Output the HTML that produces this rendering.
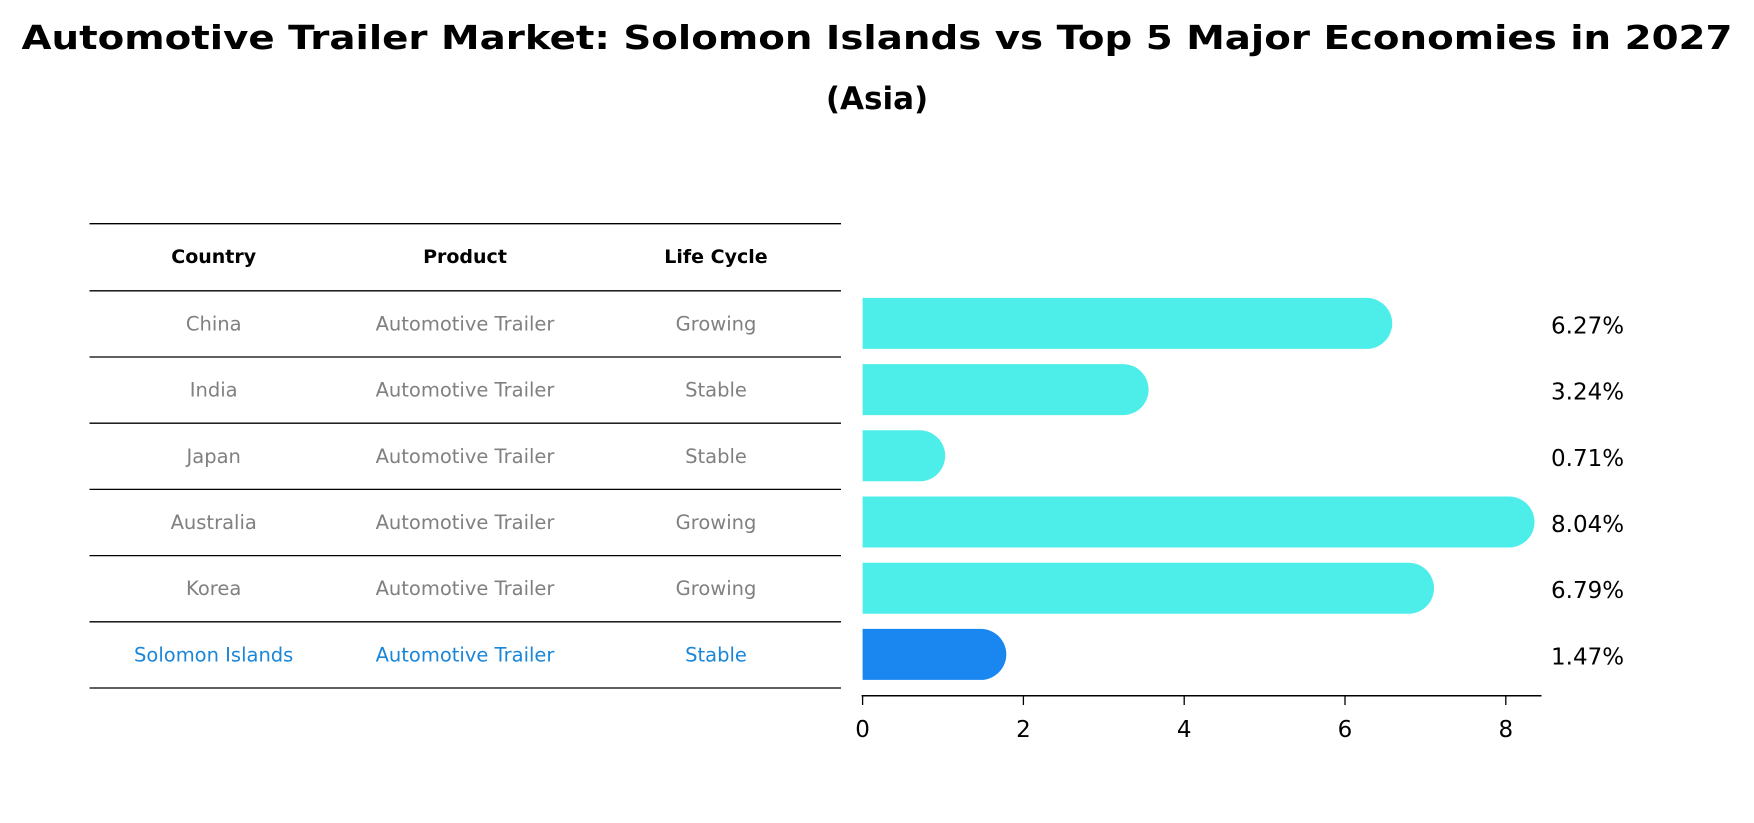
<!DOCTYPE html>
<html><head><meta charset="utf-8"><style>
html,body{margin:0;padding:0;background:#fff;}
svg{display:block;font-family:"DejaVu Sans","Liberation Sans",sans-serif;}
</style></head><body>
<svg id="chart" width="1754" height="823" viewBox="0 0 1754 823">
<text x="877" y="49" text-anchor="middle" font-size="33" font-weight="bold" textLength="1711" lengthAdjust="spacingAndGlyphs">Automotive Trailer Market: Solomon Islands vs Top 5 Major Economies in 2027</text>
<text x="877" y="109" text-anchor="middle" font-size="31" font-weight="bold">(Asia)</text>
<g id="table"></g>
<g id="bars"></g>
<g id="axis"></g>
</svg>
<script>
const countries = ["China","India","Japan","Australia","Korea","Solomon Islands"];
const products = ["Automotive Trailer","Automotive Trailer","Automotive Trailer","Automotive Trailer","Automotive Trailer","Automotive Trailer"];
const lifeCycles = ["Growing","Stable","Stable","Growing","Growing","Stable"];
const growthValues = [6.27,3.24,0.71,8.04,6.79,1.47];
const valueLabels = ["6.27%","3.24%","0.71%","8.04%","6.79%","1.47%"];
const xTicks = [0,2,4,6,8];

const NS="http://www.w3.org/2000/svg";
function mk(tag,attrs,parent){const e=document.createElementNS(NS,tag);for(const k in attrs)e.setAttribute(k,attrs[k]);parent.appendChild(e);return e;}
const x0=862.6, pxPerUnit=80.4;
const xScale=v=>x0+v*pxPerUnit;
const rowTop=290.8, rowH=66.2;
const yCenter=i=>rowTop+rowH*i+rowH/2-0.5;

// table
const tbl=document.getElementById('table');
const lineYs=[223.7,290.8];
for(let i=1;i<=countries.length;i++)lineYs.push(rowTop+rowH*i);
lineYs.forEach((y,i)=>{
  const l=mk('line',{x1:89.5,x2:841,y1:y,y2:y,stroke:'#000','stroke-width':1.3},tbl);
  
  
});
const colX=[213.7,465,716];
["Country","Product","Life Cycle"].forEach((h,j)=>{
  const t=mk('text',{x:colX[j],y:263,'text-anchor':'middle','font-size':19,'font-weight':'bold'},tbl);
  t.textContent=h;
  
  
});
countries.forEach((c,i)=>{
  const last=i===countries.length-1;
  const col=last?'#1a86d8':'#808080';
  [c,products[i],lifeCycles[i]].forEach((v,j)=>{
    const t=mk('text',{x:colX[j],y:yCenter(i)+7,'text-anchor':'middle','font-size':19.5,fill:col},tbl);
    t.textContent=v;
    
    
  });
});

// bars
const bg=document.getElementById('bars');
const bh=51, r=25.5;
growthValues.forEach((v,i)=>{
  const last=i===growthValues.length-1;
  const top=yCenter(i)-bh/2, xr=xScale(v);
  const d=`M${x0},${top} H${xr} A${r},${r} 0 0 1 ${xr},${top+bh} H${x0} Z`;
  const p=mk('path',{d:d,fill:last?'#1a86f0':'#4deeea'},bg);
  
  
  const t=mk('text',{x:1551,y:yCenter(i)+10,'font-size':23},bg);
  t.textContent=valueLabels[i];
  
  
});

// axis
const ax=document.getElementById('axis');
const al=mk('line',{x1:x0-1,x2:1541.5,y1:695.7,y2:695.7,stroke:'#000','stroke-width':1.5},ax);


xTicks.forEach(v=>{
  const tl=mk('line',{x1:xScale(v),x2:xScale(v),y1:695.7,y2:705,stroke:'#000','stroke-width':1.3},ax);
  
  
  const t=mk('text',{x:xScale(v),y:737,'text-anchor':'middle','font-size':23},ax);
  t.textContent=v;
  
  
});
</script>
</body></html>
